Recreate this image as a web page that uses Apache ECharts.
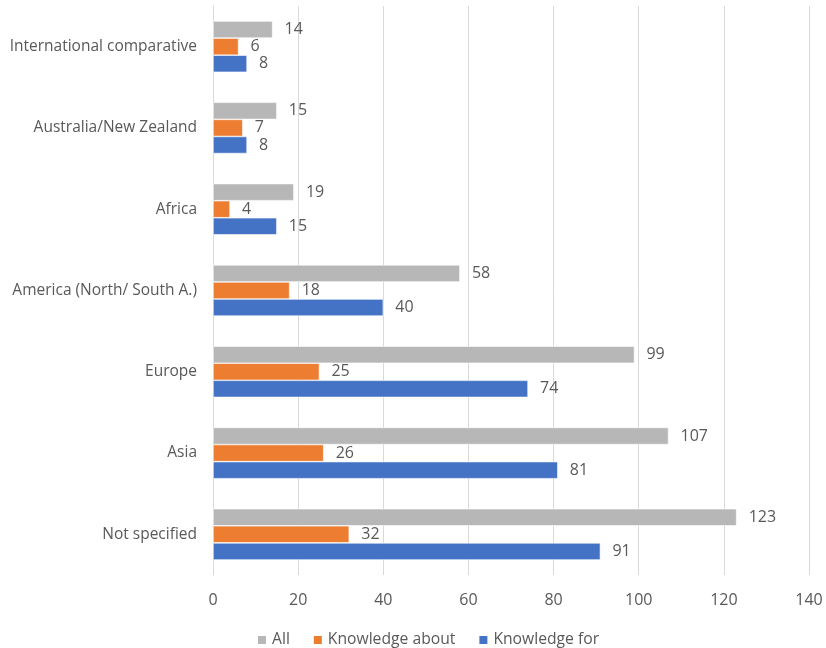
<!DOCTYPE html>
<html>
<head>
<meta charset="utf-8">
<style>
  html, body { margin: 0; padding: 0; background: #ffffff; }
  #chart { width: 826px; height: 648px; }
</style>
<script src="https://cdn.jsdelivr.net/npm/echarts@6/dist/echarts.min.js"></script>
</head>
<body>
<div id="chart"></div>
<script>
// Regions, listed bottom to top along the category axis
const regions = [
  'Not specified',
  'Asia',
  'Europe',
  'America (North/ South A.)',
  'Africa',
  'Australia/New Zealand',
  'International comparative'
];

// Publication counts per region
const allCounts = [123, 107, 99, 58, 19, 15, 14];
const knowledgeAbout = [32, 26, 25, 18, 4, 7, 6];
const knowledgeFor = [91, 81, 74, 40, 15, 8, 8];

const xTicks = { min: 0, max: 140, interval: 20 };

const textColor = '#595959';
const fontFamily = '"Open Sans", "Noto Sans", sans-serif';

const chart = echarts.init(document.getElementById('chart'), null, { renderer: 'canvas' });

function barSeries(name, data, color) {
  return {
    name: name,
    type: 'bar',
    data: data,
    barGap: '0%',
    barCategoryGap: '37%',
    itemStyle: { color: color, borderColor: '#ffffff', borderWidth: 0.6 },
    label: {
      show: true,
      position: 'right',
      distance: 12,
      color: textColor,
      fontFamily: fontFamily,
      fontSize: 16
    },
    emphasis: { disabled: true }
  };
}

chart.setOption({
  animation: false,
  textStyle: { fontFamily: fontFamily },
  grid: { left: 213, right: 17, top: 6, bottom: 73, containLabel: false },
  legend: {
    top: 627,
    left: 251,
    itemWidth: 10,
    itemHeight: 10,
    itemGap: 22,
    icon: 'rect',
    textStyle: { color: textColor, fontSize: 15.7, fontFamily: fontFamily },
    data: ['All', 'Knowledge about', 'Knowledge for']
  },
  xAxis: {
    type: 'value',
    min: xTicks.min,
    max: xTicks.max,
    interval: xTicks.interval,
    axisLine: { show: false },
    axisTick: { show: false },
    axisLabel: { color: textColor, fontSize: 16, margin: 17, fontFamily: fontFamily },
    splitLine: { show: true, lineStyle: { color: '#d9d9d9', width: 1 } }
  },
  yAxis: {
    type: 'category',
    data: regions,
    axisLine: { show: true, lineStyle: { color: '#d9d9d9', width: 1 } },
    axisTick: { show: false },
    axisLabel: { color: textColor, fontSize: 15.5, margin: 16, fontFamily: fontFamily }
  },
  series: [
    barSeries('All', allCounts, '#b7b7b7'),
    barSeries('Knowledge about', knowledgeAbout, '#ed7d31'),
    barSeries('Knowledge for', knowledgeFor, '#4472c4')
  ]
});
</script>
</body>
</html>
